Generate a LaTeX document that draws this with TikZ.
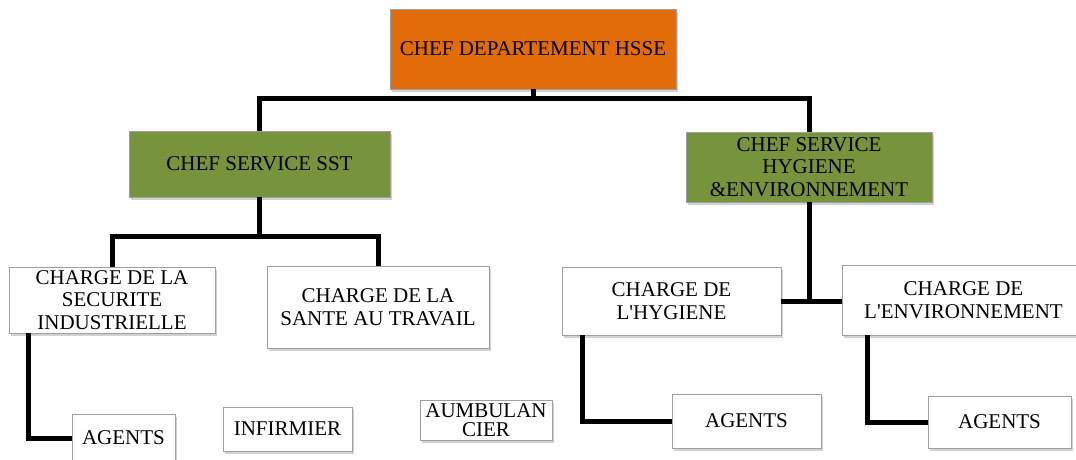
\documentclass[tikz,border=0pt]{standalone}
\usepackage{fontspec}
\setmainfont{Liberation Serif}
\usepackage{tikz}
\usetikzlibrary{calc, shadows}
\definecolor{headcolor}{RGB}{227,108,10}
\definecolor{servcolor}{RGB}{119,147,60}

\begin{document}
\begin{tikzpicture}[
    x=1pt, y=-1pt,
    box/.style={draw=gray!75, line width=0.8pt, fill=#1, align=center, inner sep=0pt,
        font=\fontsize{21}{22.5}\selectfont,
        drop shadow={shadow xshift=2pt, shadow yshift=-3pt, opacity=0.3, fill=black!60}},
    box/.default=white,
    link/.style={line width=5pt, black}
]
    \useasboundingbox (0,0) rectangle (1076,459);

    \node[box=headcolor, minimum width=286, minimum height=80] (hsse) at (533,49) {CHEF DEPARTEMENT HSSE};
    \node[box=servcolor, minimum width=261, minimum height=66] (sst) at (259.5,164) {CHEF SERVICE SST};
    \node[box=servcolor, minimum width=246, minimum height=70] (hyg) at (809,167) {CHEF SERVICE\\HYGIENE\\\&ENVIRONNEMENT};

    % Charges
    \node[box, minimum width=206, minimum height=66] (secu) at (112,300) {CHARGE DE LA\\SECURITE\\INDUSTRIELLE};
    \node[box, minimum width=222, minimum height=82] (sante) at (378,307) {CHARGE DE LA\\SANTE AU TRAVAIL};
    \node[box, minimum width=219, minimum height=68] (chyg) at (671.5,301) {CHARGE DE\\L\textquotesingle HYGIENE};
    \node[box, minimum width=243, minimum height=70] (cenv) at (963.5,300) {CHARGE DE\\L\textquotesingle ENVIRONNEMENT};

    % Agents
    \node[box, minimum width=103, minimum height=48] (ag1) at (123.5,438) {AGENTS};
    \node[box, minimum width=129, minimum height=44] (inf) at (287.5,429) {INFIRMIER};
    \node[box, minimum width=132, minimum height=40, font=\fontsize{21}{19}\selectfont] (amb) at (486,420) {AUMBULAN\\CIER};
    \node[box, minimum width=149, minimum height=54] (ag2) at (746.5,421) {AGENTS};
    \node[box, minimum width=143, minimum height=52] (ag3) at (999.5,422) {AGENTS};

    % Links
    \coordinate (top) at (533,98);
    \coordinate (mid) at (259.5,236);
    \draw[link] (hsse.south) -- (top);
    \draw[link] (sst.north) |- (top);
    \draw[link] (hyg.north) |- (top);
    \draw[link] (sst.south) -- (mid);
    \draw[link] (secu.north) |- (mid);
    \draw[link] (sante.north) |- (mid);
    \draw[link] (hyg.south) -- (hyg.south |- chyg.east);
    \draw[link] (chyg.east) -- (chyg.east -| cenv.west);
    \draw[link] ($(secu.south west)+(20,0)$) |- (ag1.west);
    \draw[link] ($(chyg.south west)+(21,0)$) |- (ag2.west);
    \draw[link] ($(cenv.south west)+(26,0)$) |- (ag3.west);
\end{tikzpicture}
\end{document}
